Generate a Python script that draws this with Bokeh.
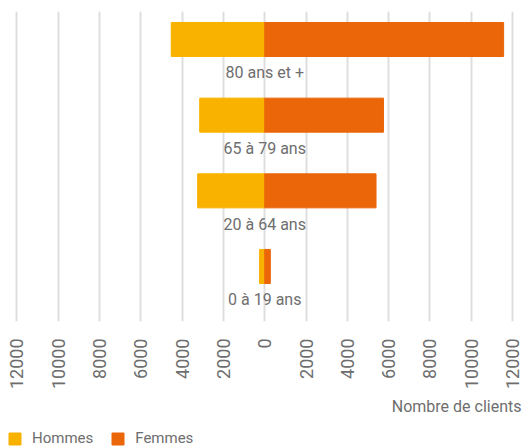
from bokeh.plotting import figure
from bokeh.models import Range1d, Legend, LegendItem, FixedTicker, ColumnDataSource, Label
from bokeh.layouts import column
from bokeh.core.properties import value
from bokeh.embed import file_html
from bokeh.resources import INLINE
import math

categories = ["0 à 19 ans", "20 à 64 ans", "65 à 79 ans", "80 ans et +"]
hommes = [250, 3250, 3150, 4530]
femmes = [270, 5390, 5750, 11570]
tick_values = [-12000, -10000, -8000, -6000, -4000, -2000, 0, 2000, 4000, 6000, 8000, 10000, 12000]
tick_labels = ["12000", "10000", "8000", "6000", "4000", "2000", "0", "2000", "4000", "6000", "8000", "10000", "12000"]
series_names = ["Hommes", "Femmes"]
axis_title = "Nombre de clients"

FONT = "Roboto"
GREY = "#6e6e6e"
C_H = "#F9B200"
C_F = "#EA6608"

ypos = list(range(len(categories)))
src = ColumnDataSource(dict(
    y=ypos,
    ylab=[v - 0.44 for v in ypos],
    zero=[0] * len(categories),
    hl=[-h for h in hommes],
    fr=femmes,
    cat=categories,
))

p = figure(output_backend="svg", toolbar_location=None,
           frame_width=523, frame_height=310,
           x_range=Range1d(-12799, 12533), y_range=Range1d(-0.727, 3.37),
           y_axis_location=None,
           min_border_left=0, min_border_right=0, min_border_top=11, min_border_bottom=0)
p.outline_line_color = None
p.background_fill_color = "white"

p.hbar(y="y", left="hl", right="zero", height=0.45, color=C_H, source=src)
p.hbar(y="y", left="zero", right="fr", height=0.45, color=C_F, source=src)
p.text(x="zero", y="ylab", text="cat", source=src, text_align="center", text_baseline="middle",
       text_font=value(FONT), text_font_size="16px", text_color=GREY)

p.ygrid.grid_line_color = None
p.xgrid.grid_line_color = "#dedede"
p.xgrid.grid_line_width = 2
p.xaxis.ticker = FixedTicker(ticks=tick_values)
p.xgrid.ticker = FixedTicker(ticks=tick_values)
p.xaxis.major_label_overrides = {t: l for t, l in zip(tick_values, tick_labels)}
p.xaxis.major_label_orientation = math.pi / 2
p.xaxis.axis_line_color = None
p.xaxis.major_tick_line_color = None
p.xaxis.minor_tick_line_color = None
p.xaxis.major_tick_out = 0
p.xaxis.major_label_standoff = 17
p.xaxis.major_label_text_font = FONT
p.xaxis.major_label_text_font_size = "18px"
p.xaxis.major_label_text_color = GREY

# footer: axis title + legend (legend swatches come from off-range placeholder bars)
q = figure(output_backend="svg", toolbar_location=None,
           frame_width=523, frame_height=70, x_range=Range1d(0, 523), y_range=Range1d(0, 70),
           x_axis_location=None, y_axis_location=None,
           min_border=0, min_border_left=0, min_border_right=0, min_border_top=0, min_border_bottom=0)
q.outline_line_color = None
q.grid.visible = False
dh = q.hbar(y=[-1000], left=[0], right=[1], height=1, color=C_H)
df = q.hbar(y=[-1000], left=[0], right=[1], height=1, color=C_F)
q.add_layout(Label(x=521, y=56, x_units="screen", y_units="screen", text=axis_title,
                   text_align="right", text_baseline="middle", text_font=FONT,
                   text_font_size="16px", text_color=GREY))
legend = Legend(items=[LegendItem(label=series_names[0], renderers=[dh]),
                       LegendItem(label=series_names[1], renderers=[df])],
                orientation="horizontal", location=(7, 15),
                glyph_width=15, glyph_height=15, label_text_font=FONT, label_text_font_size="15px",
                label_text_color=GREY, border_line_color=None, padding=0, margin=0, spacing=17,
                label_standoff=10, background_fill_alpha=0)
q.add_layout(legend, "center")

layout = column(p, q, spacing=0)
open("out.html", "w").write(file_html(layout, INLINE))
